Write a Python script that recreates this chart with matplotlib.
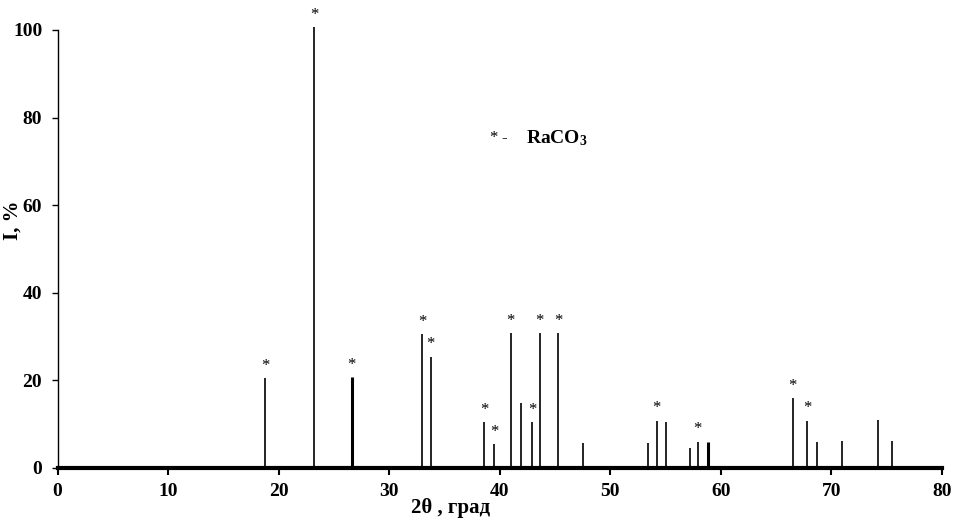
import matplotlib
matplotlib.use("Agg")
import matplotlib.pyplot as plt

# Peak positions (2theta, deg) and relative intensities (%)
two_theta = [18.8, 23.2, 26.6, 32.96, 33.77, 38.6, 39.5, 41.0, 41.9, 42.95, 43.6, 45.3,
             47.5, 53.4, 54.2, 55.0, 57.2, 57.9, 58.8, 66.5, 67.8, 68.7, 71.0, 74.2, 75.5]
intensity = [20.5, 100.6, 20.7, 30.6, 25.4, 10.4, 5.4, 30.8, 14.8, 10.4, 30.8, 30.8,
             5.7, 5.7, 10.8, 10.6, 4.6, 6.0, 6.0, 16.0, 10.8, 6.0, 6.2, 11.0, 6.2]
# peaks marked as RaCO3
marked = [18.8, 23.2, 26.6, 32.96, 33.77, 38.6, 39.5, 41.0, 42.95, 43.6, 45.3,
          54.2, 57.9, 66.5, 67.8]
thick = [26.6, 58.8]

x_ticks = [0, 10, 20, 30, 40, 50, 60, 70, 80]
y_ticks = [0, 20, 40, 60, 80, 100]

plt.rcParams['font.family'] = ['Liberation Serif', 'DejaVu Serif']
plt.rcParams['mathtext.fontset'] = 'custom'
plt.rcParams['mathtext.rm'] = 'Liberation Serif'
plt.rcParams['mathtext.bf'] = 'Liberation Serif:bold'

fig = plt.figure(figsize=(9.75, 5.28), dpi=100)
ax = fig.add_axes([57.5 / 975, 60 / 528, (942 - 57.5) / 975, (468 - 30) / 528])

for x, h in zip(two_theta, intensity):
    lw = 2.2 if x in thick else 1.2
    ax.vlines(x, 0, h, color='black', linewidth=lw, clip_on=False)
    if x in marked:
        ax.text(x, h + 1.0, '*', ha='center', va='bottom', fontsize=12,
                color='black', clip_on=False)

ax.set_xlim(0, 80)
ax.set_ylim(0, 100)
ax.set_xticks(x_ticks)
ax.set_yticks(y_ticks)
ax.set_xticklabels([str(t) for t in x_ticks], fontsize=14, fontweight='bold')
ax.set_yticklabels([str(t) for t in y_ticks], fontsize=14, fontweight='bold')
ax.tick_params(axis='x', direction='out', length=5, width=1.5, pad=6)
ax.tick_params(axis='y', direction='out', length=4, width=1, pad=7)

for s in ['top', 'right']:
    ax.spines[s].set_visible(False)
ax.spines['bottom'].set_linewidth(3)
ax.spines['left'].set_linewidth(1)

fig.text(451 / 975, 1 - 508 / 528, '2θ , град', fontsize=15, fontweight='bold',
         ha='center', va='center')
fig.text(13 / 975, 1 - 220 / 528, 'I, %', fontsize=15, fontweight='bold',
         ha='center', va='center', rotation=90)

ax.text(39.4, 75.3, '*', ha='center', va='center', fontsize=12)
ax.text(40.4, 75.3, '-', ha='center', va='center', fontsize=12)
ax.text(42.4, 75.3, r'$\mathbf{RaCO_3}$', ha='left', va='center', fontsize=14)

fig.savefig('out.png', dpi=100)
